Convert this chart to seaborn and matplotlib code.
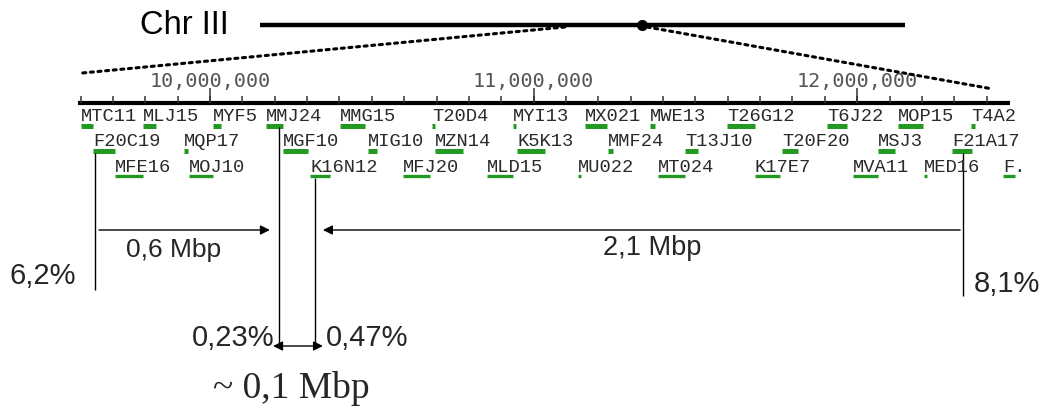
import numpy as np
import pandas as pd
import matplotlib
matplotlib.use("Agg")
import matplotlib.pyplot as plt
import seaborn as sns
from matplotlib.patches import ConnectionPatch

# --- data: BAC/P1 clones on the zoomed part of chromosome III (bp) ---
row1_names = ["MTC11", "MLJ15", "MYF5", "MMJ24", "MMG15", "T20D4", "MYI13",
              "MX021", "MWE13", "T26G12", "T6J22", "MOP15", "T4A2"]
row1_start = [9601000, 9793000, 10009000, 10173000, 10402000, 10686000, 10936000,
              11159000, 11360000, 11598000, 11907000, 12126000, 12351000]
row1_end = [9638000, 9833000, 10034000, 10226000, 10479000, 10695000, 10946000,
            11227000, 11375000, 11684000, 11968000, 12203000, 12364000]

row2_names = ["F20C19", "MQP17", "MGF10", "MIG10", "MZN14", "K5K13", "MMF24",
              "T13J10", "T20F20", "MSJ3", "F21A17"]
row2_start = [9638000, 9920000, 10226000, 10488000, 10695000, 10949000, 11230000,
              11468000, 11767000, 12064000, 12293000]
row2_end = [9706000, 9932000, 10303000, 10516000, 10782000, 11035000, 11245000,
            11508000, 11817000, 12117000, 12355000]

row3_names = ["MFE16", "MOJ10", "K16N12", "MFJ20", "MLD15", "MU022", "MT024",
              "K17E7", "MVA11", "MED16", "F."]
row3_start = [9706000, 9935000, 10309000, 10596000, 10856000, 11137000, 11384000,
              11684000, 11987000, 12206000, 12450000]
row3_end = [9793000, 10009000, 10371000, 10680000, 10936000, 11143000, 11468000,
            11761000, 12064000, 12209000, 12487000]

# ruler
ruler_from, ruler_to = 9592000, 12472000
major_ticks = [10000000, 11000000, 12000000]
major_labels = ["10,000,000", "11,000,000", "12,000,000"]

# whole chromosome overview (Mb)
chrom_len = 23.46
centromere = 13.9
zoom_in_chrom = [11.09, 14.08]       # where the dotted lines leave the chromosome
zoom_on_ruler = [9605000, 12419000]  # where they land above the ruler

# breakpoint flanks (bp) and the distances between them
break_pos = [9645000, 10213000, 10324000, 12327000]
break_top = [153, 127, 178, 153]
break_bottom = [290, 347, 347, 296]
break_pct = ["6,2%", "0,23%", "0,47%", "8,1%"]

clones = pd.concat([
    pd.DataFrame({"name": row1_names, "start": row1_start, "end": row1_end, "row": 1}),
    pd.DataFrame({"name": row2_names, "start": row2_start, "end": row2_end, "row": 2}),
    pd.DataFrame({"name": row3_names, "start": row3_start, "end": row3_end, "row": 3}),
], ignore_index=True)

sns.set_theme(style="white")
plt.rcParams["font.family"] = ["Liberation Sans", "DejaVu Sans"]

fig = plt.figure(figsize=(10.46, 4.07), dpi=100)
ax = fig.add_axes([0, 0, 1, 1])
ax.set_xlim(9351000, 12583400)
ax.set_ylim(407, 0)
ax.axis("off")

# overview axes: chromosome drawn in its own Mb scale
ax_top = fig.add_axes([0, 0, 1, 1], facecolor="none")
ax_top.set_xlim(-9.457, 28.59)
ax_top.set_ylim(407, 0)
ax_top.axis("off")

ax_top.text(-4.36, 25, "Chr III", fontsize=23.5, ha="left", va="center", color="black")
ax_top.plot([0, chrom_len], [25, 25], color="black", lw=3.2, solid_capstyle="butt")
sns.scatterplot(x=[centromere], y=[25], ax=ax_top, color="black", s=55, zorder=5,
                edgecolor="black", legend=False)

for cx, rx, ry in zip(zoom_in_chrom, zoom_on_ruler, [73, 89]):
    con = ConnectionPatch(xyA=(cx, 27), coordsA=ax_top.transData,
                          xyB=(rx, ry), coordsB=ax.transData,
                          color="black", lw=2.2, linestyle=(0, (1.0, 1.5)))
    fig.add_artist(con)

# ruler
ax.plot([ruler_from, ruler_to], [103, 103], color="black", lw=3.0, solid_capstyle="butt")
minor = np.arange(9600000, 12400001, 100000)
ax.vlines(minor, 96, 103, color="#333333", lw=1.1)
ax.vlines(major_ticks, 88, 103, color="#333333", lw=1.1)
for xt, lab in zip(major_ticks, major_labels):
    ax.text(xt, 87, lab, fontsize=14.5, family="DejaVu Sans Mono", color="#555555",
            ha="center", va="baseline")

# clones
text_y = {1: 121, 2: 146, 3: 172}
bar_y = {1: 125.5, 2: 150.5, 3: 175.5}
bar_w = {1: 3.6, 2: 3.6, 3: 2.4}
min_len = 9000
for _, c in clones.iterrows():
    end = max(c["end"], c["start"] + min_len)
    ax.plot([c["start"], end], [bar_y[c["row"]]] * 2, color="#229922",
            lw=bar_w[c["row"]], solid_capstyle="butt", zorder=2)
    ax.text(c["start"], text_y[c["row"]], c["name"], fontsize=13.5,
            family="Liberation Mono", color="#2a2a2a", ha="left", va="baseline", zorder=3)

# breakpoint lines
ax.vlines(break_pos, break_top, break_bottom, color="black", lw=1.0)

arrow = dict(arrowstyle="-|>", color="black", lw=1.0, mutation_scale=14,
             shrinkA=0, shrinkB=0)
ax.annotate("", xy=(10185000, 230), xytext=(9657000, 230), arrowprops=arrow)
ax.annotate("", xy=(10349000, 230), xytext=(12318000, 230), arrowprops=arrow)
ax.annotate("", xy=(10349000, 346), xytext=(10195000, 346),
            arrowprops=dict(arrow, arrowstyle="<|-|>"))

ax.text(9886000, 250, "0,6 Mbp", fontsize=19, ha="center", va="center")
ax.text(11366000, 248, "2,1 Mbp", fontsize=19.5, ha="center", va="center")
ax.text(9484000, 276, break_pct[0], fontsize=21, ha="center", va="center")
ax.text(10198000, 338, break_pct[1], fontsize=21, ha="right", va="center")
ax.text(10358000, 338, break_pct[2], fontsize=21, ha="left", va="center")
ax.text(12463000, 284, break_pct[3], fontsize=21, ha="center", va="center")
ax.text(10250000, 388, "~ 0,1 Mbp", fontsize=27, family="Liberation Serif",
        ha="center", va="center")

fig.savefig("out.png", dpi=100, facecolor="white")
